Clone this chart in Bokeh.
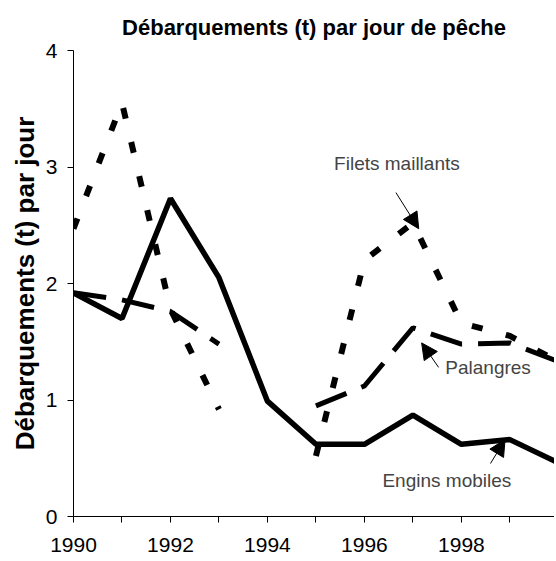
from bokeh.plotting import figure
from bokeh.models import Range1d, FixedTicker, Label, Arrow, NormalHead
from bokeh.embed import file_html
from bokeh.resources import INLINE

FONT = "Liberation Sans"

years = [1990, 1991, 1992, 1993, 1994, 1995, 1996, 1997, 1998, 1999, 2000]
nan = float("nan")
engins_mobiles = [1.92, 1.70, 2.73, 2.05, 0.99, 0.62, 0.62, 0.87, 0.62, 0.66, 0.46]
filets_maillants = [2.47, 3.55, 1.78, 0.92, nan, 0.52, 2.20, 2.52, 1.66, 1.55, 1.33]
palangres = [1.92, 1.86, 1.76, 1.48, nan, 0.95, 1.12, 1.62, 1.48, 1.49, 1.33]

major_years = [1990, 1992, 1994, 1996, 1998, 2000]
minor_years = [1991, 1993, 1995, 1997, 1999]
y_ticks = [0, 1, 2, 3, 4]

title_text = "Débarquements (t) par jour de pêche"
y_label = "Débarquements (t) par jour"

p = figure(width=554, height=561, output_backend="svg", toolbar_location=None,
           x_range=Range1d(1990, 1999.92), y_range=Range1d(0, 4),
           min_border_left=73, min_border_right=0, min_border_top=50,
           min_border_bottom=45)
p.outline_line_color = None
p.xgrid.grid_line_color = None
p.ygrid.grid_line_color = None

p.title.text = title_text
p.title.text_font = FONT
p.title.text_font_size = "22px"
p.title.text_font_style = "bold"
p.title.text_color = "black"
p.title.align = "center"
p.title.standoff = 22

xa = p.xaxis[0]
xa.ticker = FixedTicker(ticks=major_years, minor_ticks=minor_years)
xa.major_tick_in = 0
xa.major_tick_out = 6
xa.minor_tick_in = 0
xa.minor_tick_out = 6
xa.minor_tick_line_color = "black"
xa.major_tick_line_color = "black"
xa.axis_line_color = "black"
xa.major_label_text_font = FONT
xa.major_label_text_font_size = "21px"
xa.major_label_text_color = "black"
xa.major_label_standoff = 15

ya = p.yaxis[0]
ya.ticker = FixedTicker(ticks=y_ticks)
ya.major_tick_in = 0
ya.major_tick_out = 6
ya.minor_tick_line_color = None
ya.major_tick_line_color = "black"
ya.axis_line_color = "black"
ya.major_label_text_font = FONT
ya.major_label_text_font_size = "21px"
ya.major_label_text_color = "black"
ya.major_label_standoff = 10
ya.axis_label = y_label
ya.axis_label_text_font = FONT
ya.axis_label_text_font_size = "26px"
ya.axis_label_text_font_style = "bold"
ya.axis_label_text_color = "black"
ya.axis_label_standoff = 3

p.line(years, engins_mobiles, line_color="black", line_width=5.5)
p.line(years, palangres, line_color="black", line_width=5, line_dash="33 16")
p.line(years, filets_maillants, line_color="black", line_width=6, line_dash="11 24")

# annotations
p.add_layout(Label(x=1996.67, y=3.03, text="Filets maillants", text_font=FONT,
                   text_font_size="19px", text_align="center", text_baseline="middle"))
p.add_layout(Label(x=1998.55, y=1.28, text="Palangres", text_font=FONT,
                   text_font_size="19px", text_align="center", text_baseline="middle"))
p.add_layout(Label(x=1997.7, y=0.31, text="Engins mobiles", text_font=FONT,
                   text_font_size="19px", text_align="center", text_baseline="middle"))

head = dict(size=16, fill_color="black", line_color="black")
p.add_layout(Arrow(x_start=1996.65, y_start=2.78, x_end=1997.12, y_end=2.47,
                   line_width=1, end=NormalHead(**head)))
p.add_layout(Arrow(x_start=1997.53, y_start=1.28, x_end=1997.18, y_end=1.49,
                   line_width=1, end=NormalHead(**head)))
p.add_layout(Arrow(x_start=1998.6, y_start=0.455, x_end=1998.9, y_end=0.66,
                   line_width=1, end=NormalHead(**head)))

open("out.html", "w").write(file_html(p, INLINE))
